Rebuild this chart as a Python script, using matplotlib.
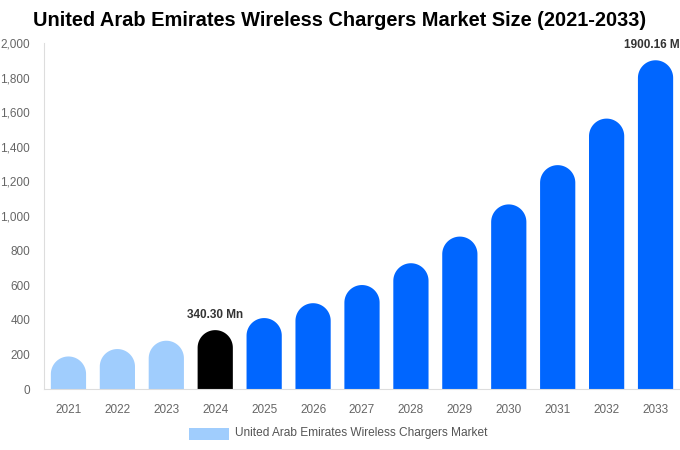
import matplotlib
matplotlib.use('Agg')
import matplotlib.pyplot as plt
import numpy as np
from matplotlib.patches import Polygon, Rectangle
from matplotlib.ticker import FuncFormatter

plt.rcParams['font.family'] = ['Liberation Sans', 'DejaVu Sans']

years = ['2021', '2022', '2023', '2024', '2025', '2026', '2027',
         '2028', '2029', '2030', '2031', '2032', '2033']
values = [188, 231, 279, 340.30, 410, 496, 601, 727, 881, 1067, 1294, 1563, 1900.16]
colors = ['#a0cdfd'] * 3 + ['#000000'] + ['#0066ff'] * 9
labels = {3: '340.30 Mn', 12: '1900.16 Mn'}
series_name = 'United Arab Emirates Wireless Chargers Market'

W, H = 680, 450
fig = plt.figure(figsize=(W / 100, H / 100), dpi=100)
ax_l, ax_r, ax_t, ax_b = 44, 680, 43, 389
ax = fig.add_axes([ax_l / W, (H - ax_b) / H, (ax_r - ax_l) / W, (ax_b - ax_t) / H])
ax.set_xlim(-0.5, len(years) - 0.5)
ax.set_ylim(0, 2000)

#-> rounded-top bars as one polygon each, cap sized in pixels
bar_w = 0.72
px_per_x = (ax_r - ax_l) / len(years)
px_per_y = (ax_b - ax_t) / 2000
ry = (bar_w * px_per_x / 2) / px_per_y
theta = np.linspace(0, np.pi, 60)
for i, (v, c) in enumerate(zip(values, colors)):
    cap_x = i + bar_w / 2 * np.cos(theta)
    cap_y = v - ry + ry * np.sin(theta)
    xs = np.concatenate([[i + bar_w / 2], cap_x, [i - bar_w / 2]])
    ys = np.concatenate([[0], cap_y, [0]])
    ax.add_patch(Polygon(np.column_stack([xs, ys]), closed=True, color=c, lw=0))

for i, txt in labels.items():
    ax.text(i, values[i] + 55, txt, ha='center', va='bottom', fontsize=8.5,
            fontweight='bold', color='#333333', clip_on=False)

ax.set_xticks(range(len(years)))
ax.set_xticklabels(years)
ax.set_yticks(range(0, 2001, 200))
ax.yaxis.set_major_formatter(FuncFormatter(lambda v, p: f'{int(v):,}'))
ax.tick_params(length=0, labelsize=8.5, labelcolor='#666666')
ax.tick_params(axis='x', pad=11)
ax.tick_params(axis='y', pad=10)
for s in ['top', 'right']:
    ax.spines[s].set_visible(False)
for s in ['left', 'bottom']:
    ax.spines[s].set_color('#dddddd')

fig.text(0.5, 1 - 21 / H, 'United Arab Emirates Wireless Chargers Market Size (2021-2033)',
         ha='center', va='center', fontsize=14.4, fontweight='bold', color='#000000')

#-> legend drawn by hand at the bottom
fig.patches.append(Rectangle((189 / W, 1 - 440 / H), 40 / W, 12 / H,
                             transform=fig.transFigure, color='#a0cdfd', lw=0))
fig.text(235 / W, 1 - 433 / H, series_name, ha='left', va='center',
         fontsize=8.6, color='#555555')

fig.savefig('out.png', dpi=100)
